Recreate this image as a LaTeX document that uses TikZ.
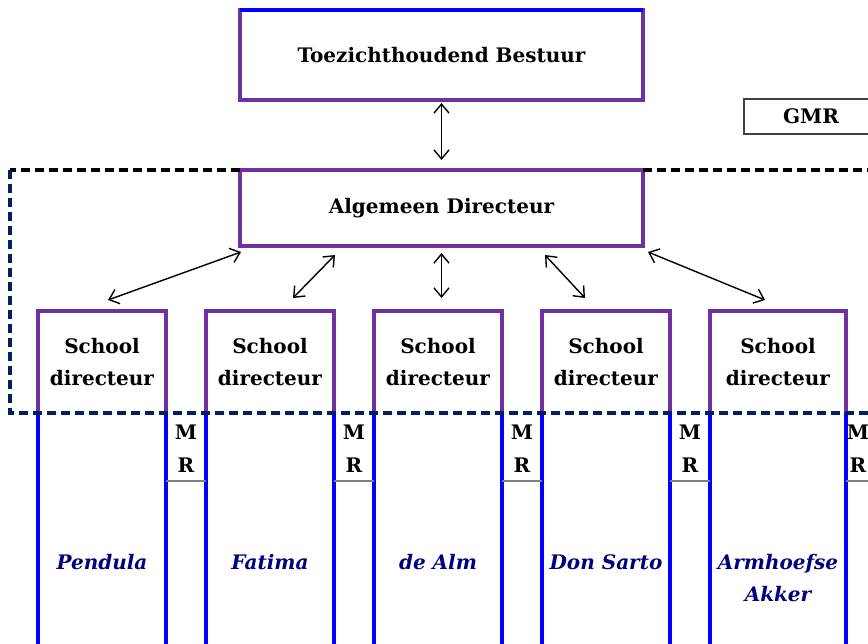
\documentclass[tikz,border=0pt]{standalone}
\usepackage{fontspec}
\setmainfont{DejaVu Serif}
\usetikzlibrary{arrows.meta}
\definecolor{purp}{RGB}{112,48,160}
\definecolor{navyline}{RGB}{0,32,96}
\definecolor{txtnavy}{RGB}{0,0,128}
\definecolor{gmrgray}{RGB}{64,64,64}
\tikzset{
  mainfont/.style={font=\fontsize{20}{32}\selectfont\bfseries},
  bigbox/.style={rectangle, draw=purp, line width=3.5pt, outer sep=0pt, minimum width=403pt, inner sep=0pt, mainfont},
  schoolbox/.style={rectangle, outer sep=0pt, minimum height=102pt, inner sep=0pt, align=center, mainfont},
  namelabel/.style={font=\fontsize{20}{32}\selectfont\bfseries\itshape, text=txtnavy, align=center},
  mrlabel/.style={align=center, mainfont, inner sep=0pt},
  dbl/.style={{Straight Barb[length=9pt,width=15pt]}-{Straight Barb[length=9pt,width=15pt]}, line width=1.4pt, black},
  dashline/.style={line width=3.5pt, dash pattern=on 9pt off 5pt},
  purpedge/.style={draw=purp, line width=3.5pt},
  blueedge/.style={draw=blue, line width=3.5pt},
  mredge/.style={draw=gray, line width=1.5pt},
}
\begin{document}
\begin{tikzpicture}[x=1pt,y=-1pt]
\useasboundingbox (0,0) rectangle (868,644);
% top boxes
\node[bigbox, minimum height=90pt] (tb) at (441.5,55) {Toezichthoudend Bestuur};
\draw[blue, line width=3.5pt] (tb.north west) -- (tb.north east);
\node[bigbox, minimum height=76pt] (ad) at (441.5,208) {Algemeen Directeur};
% GMR
\node[rectangle, draw=gmrgray, line width=1.3pt, minimum width=134pt, minimum height=35pt, mainfont, inner sep=0pt] (gmr) at (811,116.5) {GMR};
% school columns
\foreach \i/\x/\w/\nm/\ny in {1/102/128/Pendula/562, 2/270/128/Fatima/562, 3/438/128/de Alm/562, 4/606/128/Don Sarto/562, 5/778/136/{Armhoefse\\Akker}/578} {
  \node[schoolbox, minimum width=\w pt] (s\i) at (\x,362) {School\\directeur};
  \draw[purpedge] (s\i.south west) -- (s\i.north west) -- (s\i.north east) -- (s\i.south east);
  \coordinate (bl\i) at ([shift={(0,240)}]s\i.south west);
  \coordinate (br\i) at ([shift={(0,240)}]s\i.south east);
  \draw[blueedge] (s\i.south west) -- (bl\i);
  \draw[blueedge] (s\i.south east) -- (br\i);
  \node[namelabel] (n\i) at (\x,\ny) {\nm};
}
% MR boxes
\foreach \j/\x in {1/186, 2/354, 3/522, 4/690, 5/858} {
  \node[mrlabel] (mr\j) at (\x,448.5) {M\\[1pt]R};
}
\foreach \j/\k in {1/2, 2/3, 3/4, 4/5} {
  \coordinate (mra\j) at ([shift={(0,68)}]s\j.south east);
  \coordinate (mrb\j) at ([shift={(0,68)}]s\k.south west);
  \draw[mredge] (mra\j) -- (mrb\j);
}
\coordinate (mra5) at ([shift={(0,68)}]s5.south east);
\coordinate (mrb5) at (900,481);
\draw[mredge] (mra5) -- (mrb5);
% dashed frame
\coordinate (dtl) at (10,170);
\coordinate (dbl) at (10,413);
\coordinate (dbr) at (900,413);
\coordinate (dtr) at (900,170);
\draw[dashline, black] (ad.north west) -- (dtl);
\draw[dashline, black] (ad.north east) -- (dtr);
\draw[dashline, navyline] (dtl) -- (dbl) -- (dbr);
% arrows
\draw[dbl] ([shift={(0,3)}]tb.south) -- ([shift={(0,-10)}]ad.north);
\draw[dbl] ([shift={(1,6)}]ad.south west) -- ([shift={(6,-11)}]s1.north);
\draw[dbl] ([shift={(95,9)}]ad.south west) -- ([shift={(23,-13)}]s2.north);
\draw[dbl] ([shift={(0,7)}]ad.south) -- ([shift={(3.5,-13)}]s3.north);
\draw[dbl] ([shift={(-98,9)}]ad.south east) -- ([shift={(-21,-13)}]s4.north);
\draw[dbl] ([shift={(5,6)}]ad.south east) -- ([shift={(-13,-11)}]s5.north);
\end{tikzpicture}
\end{document}
